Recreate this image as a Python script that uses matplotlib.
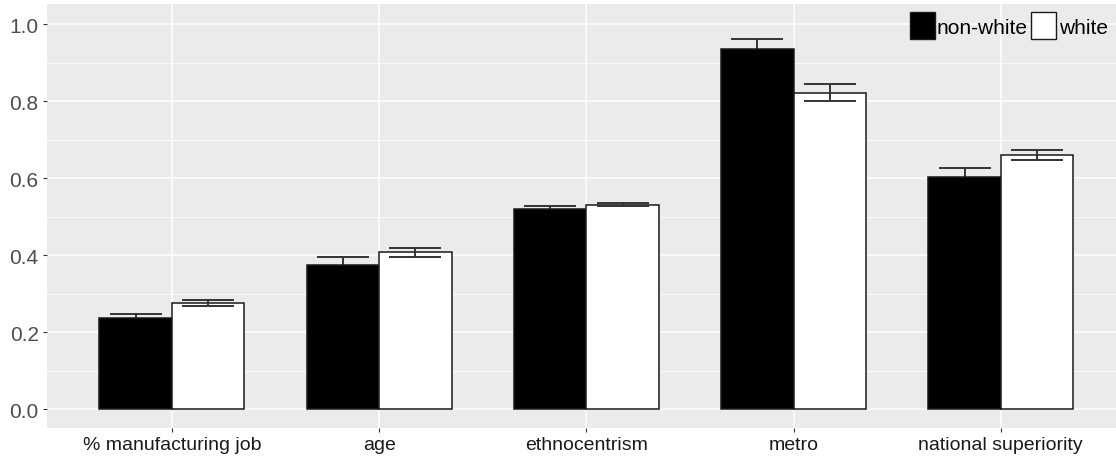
import numpy as np
import matplotlib.pyplot as plt
from matplotlib.patches import Patch
from matplotlib.ticker import MultipleLocator

# Data
categories = ['% manufacturing job', 'age', 'ethnocentrism', 'metro', 'national superiority']
nonwhite = [0.236, 0.374, 0.520, 0.935, 0.602]
white = [0.275, 0.407, 0.531, 0.822, 0.660]
nonwhite_err = [0.012, 0.020, 0.008, 0.025, 0.024]
white_err = [0.008, 0.012, 0.004, 0.021, 0.012]
groups = ['non-white', 'white']

plt.rcParams['font.family'] = ['Liberation Sans', 'DejaVu Sans']

fig = plt.figure(figsize=(11.16, 4.64), dpi=100)
ax = fig.add_axes([47 / 1116, 1 - 429 / 464, 1 - 47 / 1116, (429 - 5) / 464])
ax.set_facecolor('#EBEBEB')

x = np.arange(1, len(categories) + 1)
w = 0.35

ax.bar(x - w / 2, nonwhite, width=w, color='black', edgecolor='#1a1a1a', linewidth=1.1, zorder=3)
ax.bar(x + w / 2, white, width=w, color='white', edgecolor='#1a1a1a', linewidth=1.1, zorder=3)

# lower half of the non-white bars' error bars disappears into the black fill
ax.errorbar(x - w / 2, nonwhite, yerr=nonwhite_err, fmt='none', ecolor='#333333',
            elinewidth=1.4, capsize=18.6, capthick=1.4, zorder=2.5)
ax.errorbar(x + w / 2, white, yerr=white_err, fmt='none', ecolor='#333333',
            elinewidth=1.4, capsize=18.6, capthick=1.4, zorder=4)

ax.set_xlim(0.397, 5.556)
ax.set_ylim(-0.049, 1.052)
ax.set_xticks(x)
ax.set_xticklabels(categories)
ax.yaxis.set_major_locator(MultipleLocator(0.2))
ax.yaxis.set_minor_locator(MultipleLocator(0.1))
ax.set_yticklabels([f'{v:.1f}' for v in ax.get_yticks()])

ax.grid(which='major', color='white', linewidth=1.1, zorder=0)
ax.grid(which='minor', axis='y', color='white', linewidth=0.55, zorder=0)
ax.set_axisbelow(True)
for s in ax.spines.values():
    s.set_visible(False)

ax.tick_params(axis='both', which='major', length=3, width=0.8, color='#333333',
               labelcolor='#4D4D4D', labelsize=15, pad=3)
ax.tick_params(axis='x', labelcolor='#1a1a1a', labelsize=14)
ax.tick_params(which='minor', length=0)

handles = [Patch(facecolor='black', edgecolor='#1a1a1a', linewidth=1.0),
           Patch(facecolor='white', edgecolor='#1a1a1a', linewidth=1.0)]
ax.legend(handles, groups, loc='upper right', ncol=2, frameon=False, fontsize=15,
          handlelength=1.2, handleheight=1.6, handletextpad=0.12, columnspacing=0.15,
          borderaxespad=0.2, borderpad=0.2)

fig.savefig('out.png', dpi=100)
